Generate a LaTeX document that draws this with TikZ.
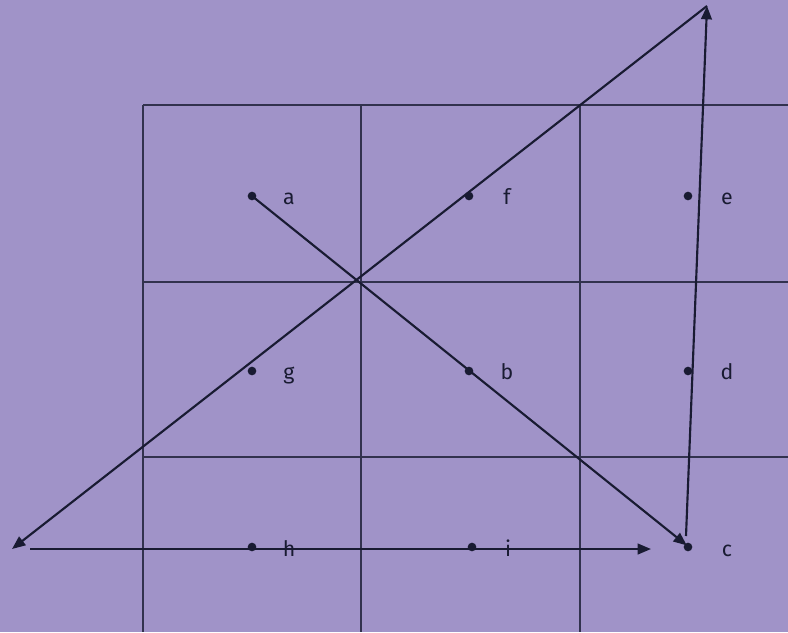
\documentclass[tikz,border=0pt]{standalone}
\usepackage{fontspec}
\setmainfont{Fira Sans}
\usetikzlibrary{arrows.meta}
\definecolor{bgc}{RGB}{160,147,200}
\definecolor{ink}{RGB}{25,27,50}
\definecolor{gridc}{RGB}{50,50,78}
\tikzset{
  gridline/.style={draw=gridc,line width=1.3pt},
  arr/.style={draw=ink,line width=1.6pt,-{Triangle[length=10pt,width=8pt]}},
  pt/.style={circle,fill=ink,inner sep=0pt,minimum size=6.5pt},
  lab/.style={text=ink,font=\fontsize{16}{19}\selectfont,inner sep=0pt,anchor=base}
}
\begin{document}
\begin{tikzpicture}[x=0.75pt,y=-0.75pt]
\fill[bgc] (0,0) rectangle (788,632);
\useasboundingbox (0,0) rectangle (788,632);
% grid
\foreach \x in {143,361,580} \draw[gridline] (\x,105) -- (\x,632);
\foreach \y in {105,282,457} \draw[gridline] (143,\y) -- (788,\y);
% points
\node[pt] (a) at (252,196) {};
\node[pt] (f) at (469,196) {};
\node[pt] (e) at (688,196) {};
\node[pt] (g) at (252,371) {};
\node[pt] (b) at (469,371) {};
\node[pt] (d) at (688,371) {};
\node[pt] (h) at (252,547) {};
\node[pt] (i) at (472,547) {};
\node[pt] (c) at (688,547) {};
% labels
\node[lab] (la) at (289,204) {a};
\node[lab] (lf) at (507,204) {f};
\node[lab] (le) at (727,204) {e};
\node[lab] (lg) at (289,379) {g};
\node[lab] (lb) at (507,379) {b};
\node[lab] (ld) at (727,379) {d};
\node[lab] (lh) at (289,556) {h};
\node[lab] (li) at (508,556) {i};
\node[lab] (lc) at (727,556) {c};
% connectors
\coordinate (top) at (707,6);
\coordinate (bl) at (12,549);
\coordinate (hs) at (30,549);
\coordinate (he) at (651,549);
\coordinate (cs) at (686,536);
\draw[arr,shorten >=-2pt] (a.center) -- (c.north west);
\draw[arr] (cs) -- (top);
\draw[arr] (top) -- (bl);
\draw[arr] (hs) -- (he);
\end{tikzpicture}
\end{document}
